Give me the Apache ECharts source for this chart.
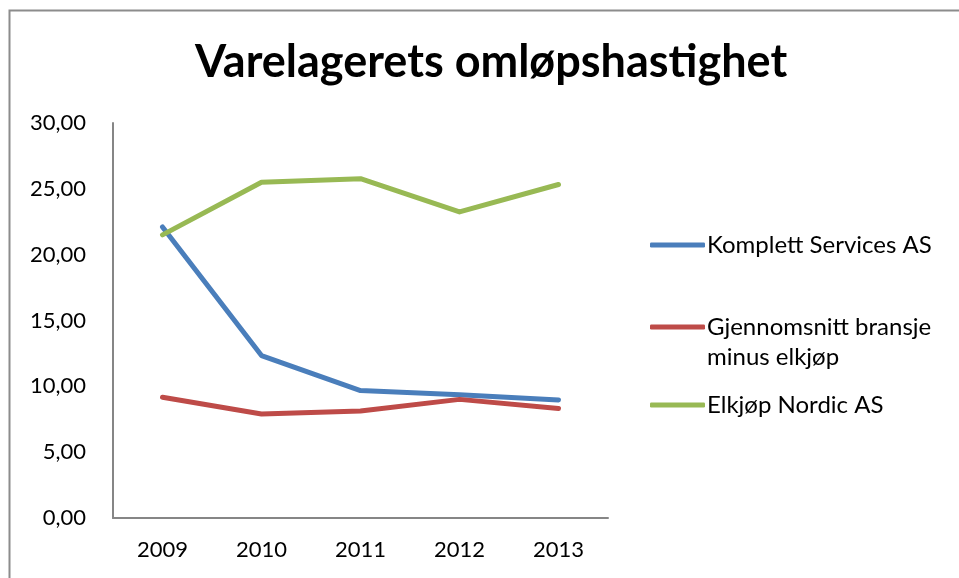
<!DOCTYPE html>
<html>
<head>
<meta charset="utf-8">
<script src="https://cdn.jsdelivr.net/npm/echarts@6/dist/echarts.min.js"></script>
<style>
  html, body { margin: 0; padding: 0; background: #fff; }
  #chart { width: 959px; height: 578px; }
</style>
</head>
<body>
<div id="chart"></div>
<script>
var years = ['2009', '2010', '2011', '2012', '2013'];
var komplett = [22.1, 12.34, 9.68, 9.37, 8.97];
var snitt = [9.17, 7.9, 8.12, 9.01, 8.32];
var elkjop = [21.5, 25.5, 25.77, 23.25, 25.33];
var seriesNames = ['Komplett Services AS', 'Gjennomsnitt bransje minus elkjøp', 'Elkjøp Nordic AS'];
var colors = ['#4A7EBB', '#BE4B48', '#98B954'];

var font = 'Lato';
var chart = echarts.init(document.getElementById('chart'), null, {renderer: 'canvas'});

function legendFor(i, top, extra) {
    return Object.assign({
        data: [seriesNames[i]],
        left: 645,
        top: top,
        icon: 'roundRect',
        itemWidth: 55,
        itemHeight: 5,
        itemGap: 0,
        textStyle: {fontFamily: font, fontSize: 24, color: '#000', padding: [0, 0, 0, -3]}
    }, extra || {});
}

var option = {
    animation: false,
    backgroundColor: '#fff',
    color: colors,
    title: {
        text: 'Varelagerets omløpshastighet',
        left: 190,
        top: 35,
        textStyle: {fontFamily: font, fontSize: 45, fontWeight: 'bold', color: '#000'}
    },
    graphic: [{
        type: 'rect',
        shape: {x: 9.5, y: 10.5, width: 1000, height: 1000},
        style: {fill: null, stroke: '#8c8c8c', lineWidth: 2},
        silent: true
    }],
    legend: [
        legendFor(0, 228),
        legendFor(1, 277, {
            formatter: function () { return '\nGjennomsnitt bransje\nminus elkjøp'; },
            textStyle: {fontFamily: font, fontSize: 24, color: '#000', lineHeight: 30, padding: [0, 0, 0, -3]}
        }),
        legendFor(2, 388)
    ],
    grid: {left: 113, right: 351, top: 123, bottom: 60, containLabel: false},
    xAxis: {
        type: 'category',
        data: years,
        boundaryGap: true,
        axisLine: {lineStyle: {color: '#868686', width: 2}},
        axisTick: {show: false},
        axisLabel: {fontFamily: font, fontSize: 22, color: '#000', margin: 21}
    },
    yAxis: {
        type: 'value',
        min: 0,
        max: 30,
        interval: 5,
        axisLine: {show: true, lineStyle: {color: '#868686', width: 2}},
        axisTick: {show: false},
        splitLine: {show: false},
        axisLabel: {
            fontFamily: font, fontSize: 22, color: '#000', margin: 27,
            formatter: function (v) { return v.toFixed(2).replace('.', ','); }
        }
    },
    series: [
        {name: seriesNames[0], type: 'line', data: komplett},
        {name: seriesNames[1], type: 'line', data: snitt},
        {name: seriesNames[2], type: 'line', data: elkjop}
    ].map(function (s, i) {
        s.symbol = 'none';
        s.lineStyle = {width: 5, color: colors[i], cap: 'round', join: 'round'};
        s.itemStyle = {color: colors[i]};
        return s;
    })
};

chart.setOption(option);
</script>
</body>
</html>
